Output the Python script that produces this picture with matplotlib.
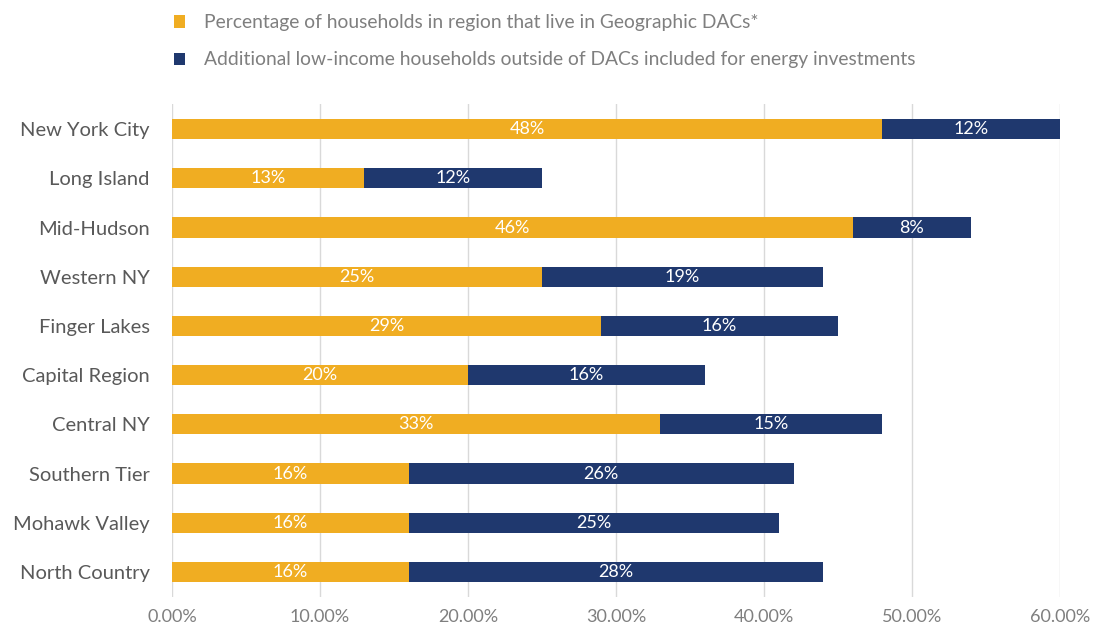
import matplotlib.pyplot as plt
from matplotlib.ticker import FuncFormatter

regions = ["New York City", "Long Island", "Mid-Hudson", "Western NY", "Finger Lakes",
           "Capital Region", "Central NY", "Southern Tier", "Mohawk Valley", "North Country"]
dac_pct = [48, 13, 46, 25, 29, 20, 33, 16, 16, 16]
extra_pct = [12, 12, 8, 19, 16, 16, 15, 26, 25, 28]
x_ticks = [0, 10, 20, 30, 40, 50, 60]

C_DAC, C_EXTRA = "#F0AD22", "#1F386E"
C_TEXT = "#7F7F7F"
C_GRID = "#D9D9D9"

plt.rcParams.update({"font.family": ["Lato", "DejaVu Sans"]})

fig = plt.figure(figsize=(11.01, 6.32), dpi=100)
ax = fig.add_axes([0.1562, 0.056, 0.8065, 0.7787])

y = list(range(len(regions)))
b1 = ax.barh(y, dac_pct, height=0.41, color=C_DAC,
             label="Percentage of households in region that live in Geographic DACs*")
b2 = ax.barh(y, extra_pct, left=dac_pct, height=0.41, color=C_EXTRA,
             label="Additional low-income households outside of DACs included for energy investments")

for bars, vals in ((b1, dac_pct), (b2, extra_pct)):
    ax.bar_label(bars, labels=[f"{v}%" for v in vals], label_type="center",
                 color="white", fontsize=13)

ax.set_xlim(0, 60)
ax.set_ylim(len(regions) - 0.5, -0.5)
ax.set_xticks(x_ticks)
ax.xaxis.set_major_formatter(FuncFormatter(lambda v, _: f"{v:.2f}%"))
ax.set_yticks(y)
ax.set_yticklabels(regions)
ax.tick_params(axis="x", length=0, pad=9, labelsize=13, labelcolor=C_TEXT)
ax.tick_params(axis="y", length=0, pad=16, labelsize=14.5, labelcolor="#595959")
ax.grid(axis="x", color=C_GRID, linewidth=1)
ax.set_axisbelow(True)
for s in ax.spines.values():
    s.set_visible(False)

fig.legend(handles=[b1, b2], loc="upper left", bbox_to_anchor=(0.142, 1.005),
           frameon=False, fontsize=13.9, labelcolor=C_TEXT,
           handlelength=0.6, handleheight=0.6, handletextpad=0.95, labelspacing=1.05)

fig.savefig("out.png", dpi=100)
